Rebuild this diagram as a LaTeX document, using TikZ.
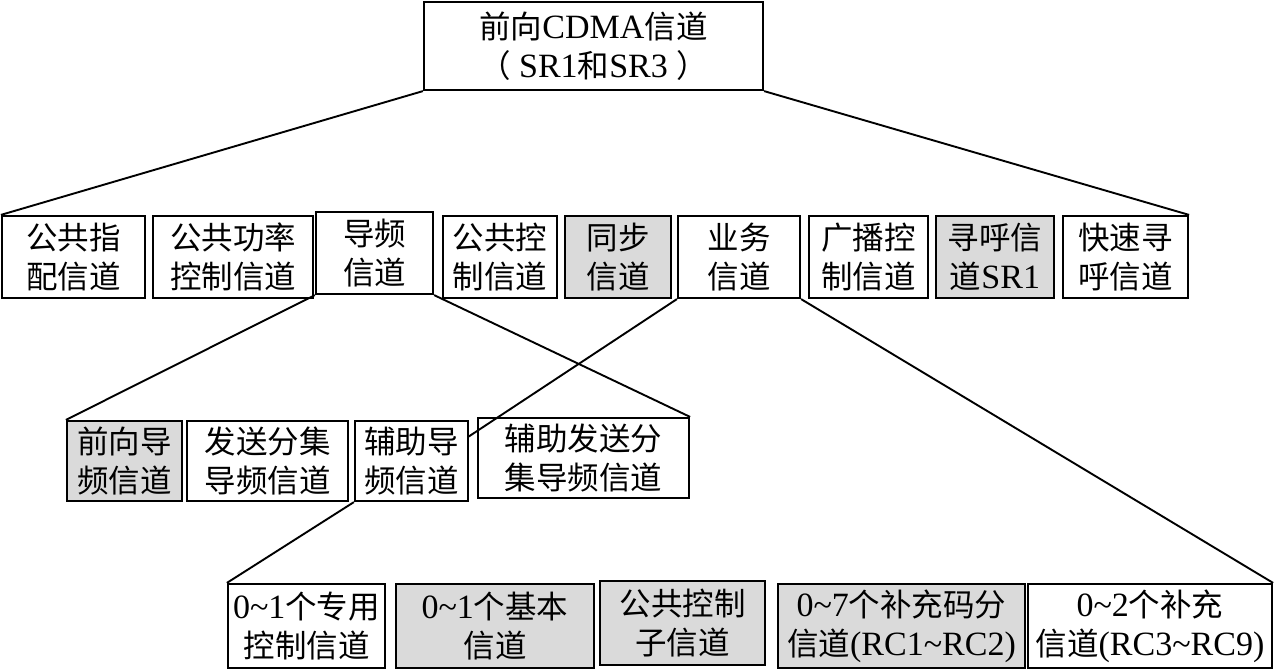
\documentclass[tikz,border=0pt]{standalone}
\usepackage{fontspec}
\setmainfont{Noto Sans CJK SC}
\newfontfamily\lat[Scale=1.08]{Liberation Serif}
\newcommand\la[1]{{\lat #1}}
\definecolor{boxgray}{RGB}{218,218,218}
\begin{document}
\begin{tikzpicture}[x=1pt,y=-1pt,
  bx/.style={draw=black, line width=2.2pt, inner sep=0pt, align=center,
    font=\fontsize{31.5}{39}\selectfont},
  gr/.style={bx, fill=boxgray},
  conn/.style={draw=black, line width=1.9pt}]
\useasboundingbox (0,0) rectangle (1276,670);
% level 1
\node[bx, minimum width=339pt, minimum height=88pt] (top) at (593.5,46)
  {前向\la{CDMA}信道\\（\la{\ SR1}和\la{SR3\ }）};
% level 2
\node[bx, minimum width=143pt, minimum height=82pt] (n1) at (73.5,257) {公共指\\配信道};
\node[bx, minimum width=160pt, minimum height=82pt] (n2) at (233,257) {公共功率\\控制信道};
\node[bx, minimum width=117pt, minimum height=82pt] (n3) at (374.5,253) {导频\\信道};
\node[bx, minimum width=114pt, minimum height=82pt] (n4) at (500,257) {公共控\\制信道};
\node[gr, minimum width=106pt, minimum height=82pt] (n5) at (618,257) {同步\\信道};
\node[bx, minimum width=122pt, minimum height=82pt] (n6) at (739,257) {业务\\信道};
\node[bx, minimum width=119pt, minimum height=82pt] (n7) at (868.5,257) {广播控\\制信道};
\node[gr, minimum width=118pt, minimum height=82pt] (n8) at (995,257) {寻呼信\\道\la{SR1}};
\node[bx, minimum width=125pt, minimum height=82pt] (n9) at (1125.5,257) {快速寻\\呼信道};
% level 3
\node[gr, minimum width=115pt, minimum height=80pt] (m1) at (124.5,461) {前向导\\频信道};
\node[bx, minimum width=161pt, minimum height=80pt] (m2) at (267.5,461) {发送分集\\导频信道};
\node[bx, minimum width=113pt, minimum height=80pt] (m3) at (411.5,461) {辅助导\\频信道};
\node[bx, minimum width=211pt, minimum height=80pt] (m4) at (583.5,458) {辅助发送分\\集导频信道};
% level 4
\node[bx, minimum width=157pt, minimum height=84pt] (k1) at (306.5,626) {\la{0\textasciitilde1}个专用\\控制信道};
\node[gr, minimum width=198pt, minimum height=84pt] (k2) at (495,626) {\la{0\textasciitilde1}个基本\\信道};
\node[gr, minimum width=165pt, minimum height=84pt] (k3) at (682.5,623) {公共控制\\子信道};
\node[gr, minimum width=247pt, minimum height=84pt] (k4) at (901.5,626) {\la{0\textasciitilde7}个补充码分\\信道\la{(RC1\textasciitilde RC2)}};
\node[bx, minimum width=244pt, minimum height=84pt] (k5) at (1150,626) {\la{0\textasciitilde2}个补充\\信道\la{(RC3\textasciitilde RC9)}};
% connectors
\coordinate (j) at (468,437);
\draw[conn] (top.south west) -- (n1.north west);
\draw[conn] (top.south east) -- (n9.north east);
\draw[conn] (n3.south west) -- (m1.north west);
\draw[conn] (n3.south east) -- (m4.north east);
\draw[conn] (n6.south west) -- (j);
\draw[conn] (m3.south west) -- (k1.north west);
\draw[conn] (n6.south east) -- (k5.north east);
\end{tikzpicture}
\end{document}
